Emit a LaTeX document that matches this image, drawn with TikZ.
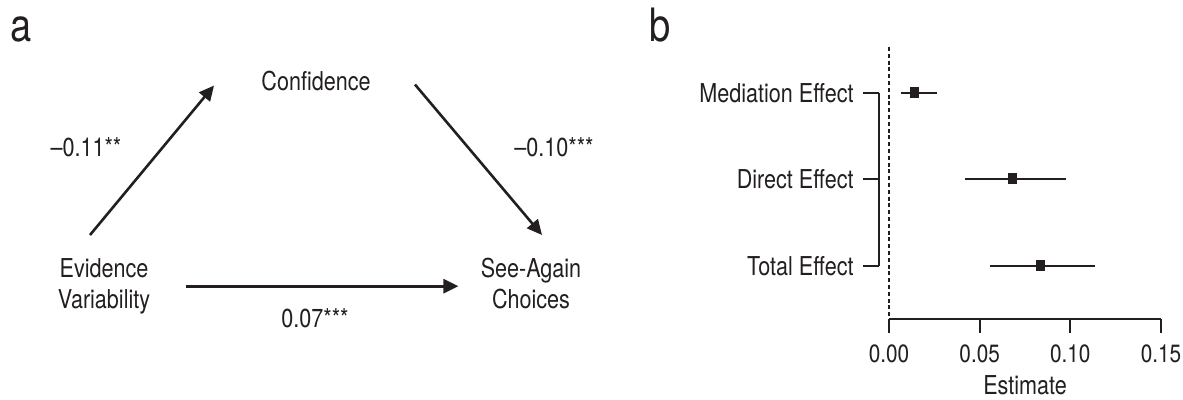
\documentclass[tikz,border=0pt]{standalone}
\usepackage{fontspec}
\setmainfont{TeX Gyre Heros}[FakeStretch=0.83]
\usetikzlibrary{arrows.meta}
\definecolor{ink}{HTML}{231F20}

\begin{document}
\begin{tikzpicture}[x=0.5pt,y=-0.5pt,
  lbl/.style={inner sep=0pt,text=ink,font=\fontsize{13}{15.5}\selectfont},
  panel/.style={inner sep=0pt,text=ink,font=\fontsize{23}{25}\selectfont},
  ticklbl/.style={inner sep=0pt,text=ink,font=\fontsize{12.5}{15}\selectfont},
  arr/.style={ink,line width=1.3pt,-{Triangle[length=7.5pt,width=7pt]}},
  bar/.style={ink,line width=1.25pt},
  brk/.style={ink,line width=0.65pt}]
\useasboundingbox (0,0) rectangle (1183,400);

\node (pa) [panel,anchor=base west] at (10,42) {a};
\node (conf) [lbl,anchor=base] at (316,91) {Confidence};
\node (ev) [lbl,anchor=north,align=center] at (104,258) {Evidence\\Variability};
\node (sac) [lbl,anchor=north,align=center] at (531,258) {See-Again\\Choices};
\node (c1) [lbl,anchor=base] at (86,157) {–0.11**};
\node (c2) [lbl,anchor=base] at (554,157) {–0.10***};
\node (c3) [lbl,anchor=base] at (315,328) {0.07***};
\draw[arr] ([shift={(-14,-23)}]ev.north) -- ([shift={(-47,4)}]conf.west);
\draw[arr] ([shift={(44,3)}]conf.east) -- ([shift={(11,-23)}]sac.north);
\draw[arr] ([shift={(35,0)}]ev.east) -- ([shift={(-22,0)}]sac.west |- ev.east);

\node (pb) [panel,anchor=base west] at (649,42) {b};
\draw[brk,dash pattern=on 2pt off 1.4pt] (889,47) -- (889,319);
\draw[ink,line width=0.85pt] (889,319) -- (1161,319);
\foreach \v/\t [count=\i] in {0/0.00,0.05/0.05,0.1/0.10,0.15/0.15} {
  \draw[ink,line width=0.85pt] (889+\v*1813,319) -- (889+\v*1813,333);
  \node (tk\i) [ticklbl,anchor=base] at (889+\v*1813,363) {\t};
}
\node (est) [lbl,anchor=base] at (1025,395) {Estimate};

\foreach \y/\name/\lo/\pt/\hi [count=\i] in {93/Mediation Effect/0.0066/0.0143/0.0265,
    179/Direct Effect/0.042/0.068/0.0976,
    266/Total Effect/0.0557/0.0838/0.1136} {
  \node (row\i) [lbl,anchor=east] at (854,\y) {\name};
  \draw[bar] (889+\lo*1813,\y) -- (889+\hi*1813,\y);
  \fill[ink] (889+\pt*1813,\y) +(-4.5,-5.5) rectangle +(4.5,5.5);
  \draw[brk] ([shift={(9,0)}]row\i.east) -- +(16,0);
}
\draw[brk] ([shift={(25,0)}]row1.east) -- ([shift={(25,0)}]row3.east);
\end{tikzpicture}
\end{document}
